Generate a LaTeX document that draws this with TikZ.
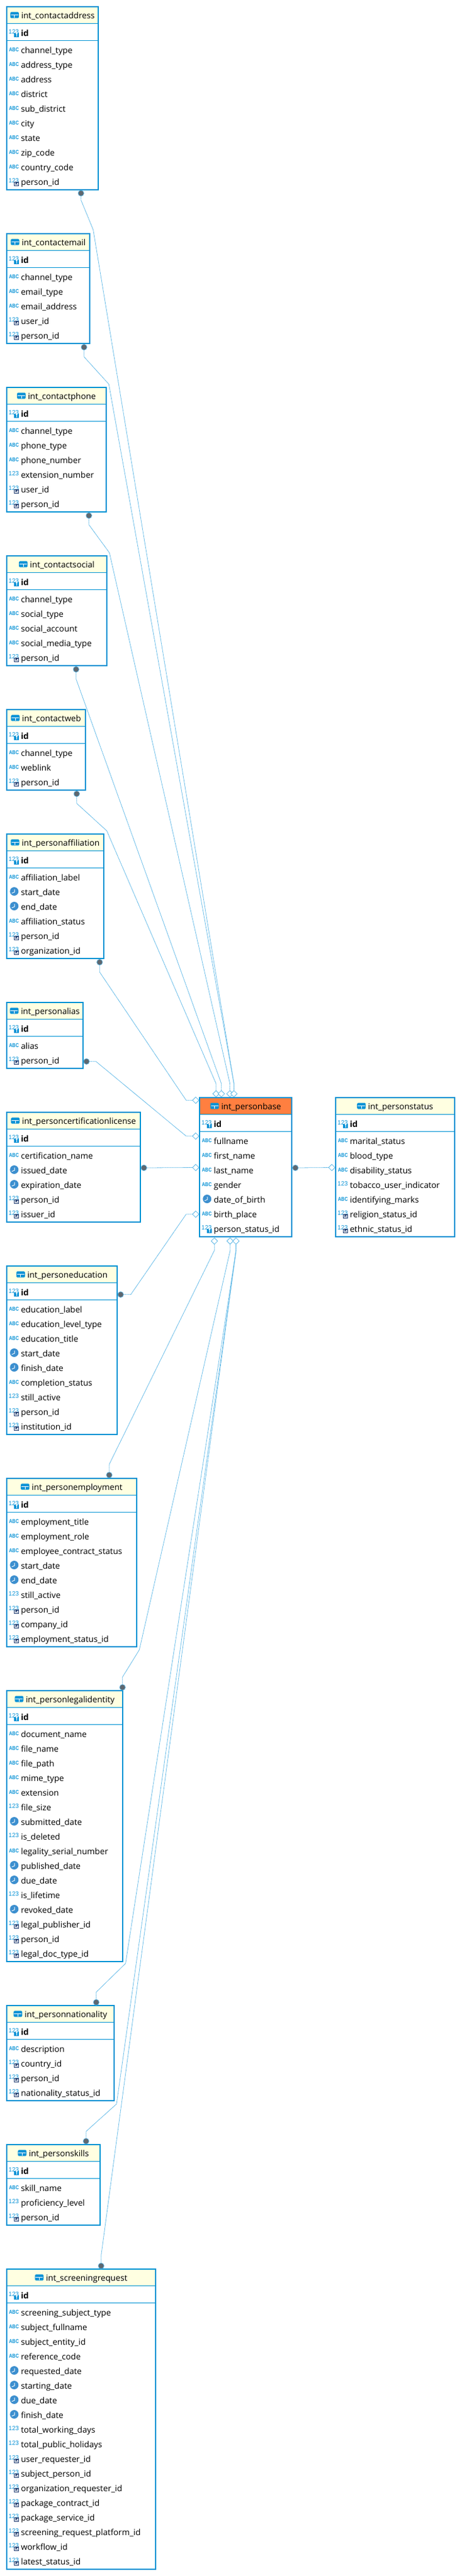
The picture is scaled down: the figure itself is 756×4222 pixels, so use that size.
\documentclass[tikz,border=0pt]{standalone}
\usepackage{fontspec}
\setmainfont{Open Sans}
\newfontfamily\iconfont{Liberation Sans}
\usetikzlibrary{positioning,shapes.geometric}
\definecolor{FrameBlue}{HTML}{0092D4}
\definecolor{IconBlue}{HTML}{0A93D6}
\definecolor{ClockBlue}{HTML}{3C8FCF}
\definecolor{RelBlue}{HTML}{5DB7E6}
\definecolor{DotGray}{HTML}{5F6870}
\definecolor{HeaderYellow}{HTML}{FFFFE1}
\definecolor{HeaderOrange}{HTML}{FF7F40}
\definecolor{FkNavy}{HTML}{1F3B6F}

\begin{document}
\begin{tikzpicture}
    [
        x=1pt,y=-1pt,font=\fontsize{13.7pt}{16pt}\selectfont,
        TableBox/.style={rectangle,draw=FrameBlue,line width=2pt,fill=white,inner sep=0pt,outer sep=0pt,anchor=north west,
            path picture={
                \fill[#1] (path picture bounding box.north west) rectangle ([yshift=-27.5pt]path picture bounding box.north east);
                \draw[FrameBlue,line width=1pt] ([yshift=-27.5pt]path picture bounding box.north west) -- ([yshift=-27.5pt]path picture bounding box.north east);
                \draw[FrameBlue,line width=1pt] ([yshift=-55.5pt]path picture bounding box.north west) -- ([yshift=-55.5pt]path picture bounding box.north east);
            }},
        TableBox/.default=HeaderYellow,
        Title/.style={inner sep=0pt,outer sep=0pt,text height=9pt,text depth=3pt,
            append after command={pic at (\tikzlastnode.west) {TableIcon}}},
        Column/.style={rectangle,inner sep=0pt,outer sep=0pt,minimum height=24pt,text height=9pt,text depth=3pt,anchor=west},
        KeyColumn/.style={Column,minimum height=32pt,font=\fontsize{13.7pt}{16pt}\selectfont\bfseries},
        Next/.style={below=0pt of #1.south west,anchor=north west},
        AbcText/.style={font=\iconfont\bfseries\fontsize{9pt}{9pt}\selectfont,text=IconBlue,inner sep=0pt,xshift=-3.2pt,yshift=3pt},
        NumText/.style={font=\iconfont\fontsize{10pt}{10pt}\selectfont,text=IconBlue,inner sep=0pt,xshift=-3.2pt,yshift=4pt},
        Abc/.style={label={[AbcText]left:\scalebox{.82}[1]{ABC}}},
        Num/.style={label={[NumText]left:123}},
        Pk/.style={Num,append after command={pic at (\tikzlastnode.west) {PkBadge}}},
        Fk/.style={Num,append after command={pic at (\tikzlastnode.west) {FkBadge}}},
        Clock/.style={append after command={pic at (\tikzlastnode.west) {ClockIcon}}},
        TableIcon/.pic={
            \fill[IconBlue,rounded corners=1.5pt] (-18,-8) rectangle (-4,2);
            \draw[white,line width=.8pt] (-17,-3) -- (-5,-3);
            \draw[white,line width=.8pt] (-11,-3) -- (-11,1);
        },
        PkBadge/.pic={
            \fill[IconBlue] (-11,-2.5) rectangle (-3,5);
            \draw[white,line width=.8pt] (-7,-1) circle (1pt);
            \draw[white,line width=.8pt] (-7,0) -- (-7,3.5);
        },
        FkBadge/.pic={
            \fill[white] (-11,-2.5) rectangle (-3,5);
            \draw[FkNavy,line width=.8pt] (-10.5,-2) rectangle (-3.5,4.5);
            \draw[FkNavy,line width=.7pt] (-8.5,3) -- (-8.5,-.5) -- (-5.5,-.5) -- (-8,1) -- (-5.5,3);
        },
        ClockIcon/.pic={
            \fill[ClockBlue] (-11,-3) circle (7pt);
            \draw[white,line width=.9pt] (-10.5,-6.5) -- (-10.5,-2) -- (-15,0);
        },
        Dot/.style={circle,fill=DotGray,draw=RelBlue,line width=.7pt,minimum size=9.5pt,inner sep=0pt,outer sep=0pt},
        Rhomb/.style={diamond,draw=RelBlue,fill=white,line width=.8pt,minimum width=10.5pt,minimum height=10.5pt,inner sep=0pt,outer sep=0pt,aspect=1},
        Rel/.style={draw=RelBlue,line width=.8pt,dash pattern=on 1.2pt off .4pt}
    ]
    \useasboundingbox (0,0) rectangle (756,4222);

    \node[TableBox=HeaderOrange,minimum width=151pt,minimum height=228pt] (personbase) at (327,1799) {};
    \node[Title] (personbase_title) at ([xshift=9pt,yshift=-16.7pt]personbase.north) {int\_personbase};
    \node[KeyColumn,Pk] (personbase_id) at ([xshift=23.3pt,yshift=-45pt]personbase.north west) {id};
    \node[Column,Abc,Next=personbase_id] (personbase_fullname) {fullname};
    \node[Column,Abc,Next=personbase_fullname] (personbase_first_name) {first\_name};
    \node[Column,Abc,Next=personbase_first_name] (personbase_last_name) {last\_name};
    \node[Column,Abc,Next=personbase_last_name] (personbase_gender) {gender};
    \node[Column,Clock,Next=personbase_gender] (personbase_date_of_birth) {date\_of\_birth};
    \node[Column,Abc,Next=personbase_date_of_birth] (personbase_birth_place) {birth\_place};
    \node[Column,Pk,Next=personbase_birth_place] (personbase_person_status_id) {person\_status\_id};

    \node[TableBox,minimum width=195pt,minimum height=228pt] (personstatus) at (550,1799) {};
    \node[Title] (personstatus_title) at ([xshift=9pt,yshift=-16.7pt]personstatus.north) {int\_personstatus};
    \node[KeyColumn,Pk] (personstatus_id) at ([xshift=23.3pt,yshift=-45pt]personstatus.north west) {id};
    \node[Column,Abc,Next=personstatus_id] (personstatus_marital_status) {marital\_status};
    \node[Column,Abc,Next=personstatus_marital_status] (personstatus_blood_type) {blood\_type};
    \node[Column,Abc,Next=personstatus_blood_type] (personstatus_disability_status) {disability\_status};
    \node[Column,Num,Next=personstatus_disability_status] (personstatus_tobacco) {tobacco\_user\_indicator};
    \node[Column,Abc,Next=personstatus_tobacco] (personstatus_marks) {identifying\_marks};
    \node[Column,Fk,Next=personstatus_marks] (personstatus_religion) {religion\_status\_id};
    \node[Column,Fk,Next=personstatus_religion] (personstatus_ethnic) {ethnic\_status\_id};

    \node[TableBox,minimum width=150pt,minimum height=300pt] (contactaddress) at (11,11) {};
    \node[Title] (contactaddress_title) at ([xshift=9pt,yshift=-16.7pt]contactaddress.north) {int\_contactaddress};
    \node[KeyColumn,Pk] (contactaddress_id) at ([xshift=23.3pt,yshift=-45pt]contactaddress.north west) {id};
    \node[Column,Abc,Next=contactaddress_id] (contactaddress_channel) {channel\_type};
    \node[Column,Abc,Next=contactaddress_channel] (contactaddress_type) {address\_type};
    \node[Column,Abc,Next=contactaddress_type] (contactaddress_address) {address};
    \node[Column,Abc,Next=contactaddress_address] (contactaddress_district) {district};
    \node[Column,Abc,Next=contactaddress_district] (contactaddress_sub) {sub\_district};
    \node[Column,Abc,Next=contactaddress_sub] (contactaddress_city) {city};
    \node[Column,Abc,Next=contactaddress_city] (contactaddress_state) {state};
    \node[Column,Abc,Next=contactaddress_state] (contactaddress_zip) {zip\_code};
    \node[Column,Abc,Next=contactaddress_zip] (contactaddress_country) {country\_code};
    \node[Column,Fk,Next=contactaddress_country] (contactaddress_person) {person\_id};

    \node[TableBox,minimum width=136pt,minimum height=180pt] (contactemail) at (11,383) {};
    \node[Title] (contactemail_title) at ([xshift=9pt,yshift=-16.7pt]contactemail.north) {int\_contactemail};
    \node[KeyColumn,Pk] (contactemail_id) at ([xshift=23.3pt,yshift=-45pt]contactemail.north west) {id};
    \node[Column,Abc,Next=contactemail_id] (contactemail_channel) {channel\_type};
    \node[Column,Abc,Next=contactemail_channel] (contactemail_type) {email\_type};
    \node[Column,Abc,Next=contactemail_type] (contactemail_address) {email\_address};
    \node[Column,Fk,Next=contactemail_address] (contactemail_user) {user\_id};
    \node[Column,Fk,Next=contactemail_user] (contactemail_person) {person\_id};

    \node[TableBox,minimum width=163pt,minimum height=204pt] (contactphone) at (11,635) {};
    \node[Title] (contactphone_title) at ([xshift=9pt,yshift=-16.7pt]contactphone.north) {int\_contactphone};
    \node[KeyColumn,Pk] (contactphone_id) at ([xshift=23.3pt,yshift=-45pt]contactphone.north west) {id};
    \node[Column,Abc,Next=contactphone_id] (contactphone_channel) {channel\_type};
    \node[Column,Abc,Next=contactphone_channel] (contactphone_type) {phone\_type};
    \node[Column,Abc,Next=contactphone_type] (contactphone_number) {phone\_number};
    \node[Column,Num,Next=contactphone_number] (contactphone_extension) {extension\_number};
    \node[Column,Fk,Next=contactphone_extension] (contactphone_user) {user\_id};
    \node[Column,Fk,Next=contactphone_user] (contactphone_person) {person\_id};

    \node[TableBox,minimum width=164pt,minimum height=180pt] (contactsocial) at (11,911) {};
    \node[Title] (contactsocial_title) at ([xshift=9pt,yshift=-16.7pt]contactsocial.north) {int\_contactsocial};
    \node[KeyColumn,Pk] (contactsocial_id) at ([xshift=23.3pt,yshift=-45pt]contactsocial.north west) {id};
    \node[Column,Abc,Next=contactsocial_id] (contactsocial_channel) {channel\_type};
    \node[Column,Abc,Next=contactsocial_channel] (contactsocial_type) {social\_type};
    \node[Column,Abc,Next=contactsocial_type] (contactsocial_account) {social\_account};
    \node[Column,Abc,Next=contactsocial_account] (contactsocial_media) {social\_media\_type};
    \node[Column,Fk,Next=contactsocial_media] (contactsocial_person) {person\_id};

    \node[TableBox,minimum width=129pt,minimum height=132pt] (contactweb) at (11,1163) {};
    \node[Title] (contactweb_title) at ([xshift=9pt,yshift=-16.7pt]contactweb.north) {int\_contactweb};
    \node[KeyColumn,Pk] (contactweb_id) at ([xshift=23.3pt,yshift=-45pt]contactweb.north west) {id};
    \node[Column,Abc,Next=contactweb_id] (contactweb_channel) {channel\_type};
    \node[Column,Abc,Next=contactweb_channel] (contactweb_link) {weblink};
    \node[Column,Fk,Next=contactweb_link] (contactweb_person) {person\_id};

    \node[TableBox,minimum width=159pt,minimum height=204pt] (personaffiliation) at (11,1367) {};
    \node[Title] (personaffiliation_title) at ([xshift=9pt,yshift=-16.7pt]personaffiliation.north) {int\_personaffiliation};
    \node[KeyColumn,Pk] (personaffiliation_id) at ([xshift=23.3pt,yshift=-45pt]personaffiliation.north west) {id};
    \node[Column,Abc,Next=personaffiliation_id] (personaffiliation_label) {affiliation\_label};
    \node[Column,Clock,Next=personaffiliation_label] (personaffiliation_start) {start\_date};
    \node[Column,Clock,Next=personaffiliation_start] (personaffiliation_end) {end\_date};
    \node[Column,Abc,Next=personaffiliation_end] (personaffiliation_status) {affiliation\_status};
    \node[Column,Fk,Next=personaffiliation_status] (personaffiliation_person) {person\_id};
    \node[Column,Fk,Next=personaffiliation_person] (personaffiliation_org) {organization\_id};

    \node[TableBox,minimum width=125pt,minimum height=108pt] (personalias) at (11,1643) {};
    \node[Title] (personalias_title) at ([xshift=9pt,yshift=-16.7pt]personalias.north) {int\_personalias};
    \node[KeyColumn,Pk] (personalias_id) at ([xshift=23.3pt,yshift=-45pt]personalias.north west) {id};
    \node[Column,Abc,Next=personalias_id] (personalias_alias) {alias};
    \node[Column,Fk,Next=personalias_alias] (personalias_person) {person\_id};

    \node[TableBox,minimum width=219pt,minimum height=180pt] (personcert) at (11,1823) {};
    \node[Title] (personcert_title) at ([xshift=9pt,yshift=-16.7pt]personcert.north) {int\_personcertificationlicense};
    \node[KeyColumn,Pk] (personcert_id) at ([xshift=23.3pt,yshift=-45pt]personcert.north west) {id};
    \node[Column,Abc,Next=personcert_id] (personcert_name) {certification\_name};
    \node[Column,Clock,Next=personcert_name] (personcert_issued) {issued\_date};
    \node[Column,Clock,Next=personcert_issued] (personcert_expiration) {expiration\_date};
    \node[Column,Fk,Next=personcert_expiration] (personcert_person) {person\_id};
    \node[Column,Fk,Next=personcert_person] (personcert_issuer) {issuer\_id};

    \node[TableBox,minimum width=181pt,minimum height=276pt] (personeducation) at (11,2075) {};
    \node[Title] (personeducation_title) at ([xshift=9pt,yshift=-16.7pt]personeducation.north) {int\_personeducation};
    \node[KeyColumn,Pk] (personeducation_id) at ([xshift=23.3pt,yshift=-45pt]personeducation.north west) {id};
    \node[Column,Abc,Next=personeducation_id] (personeducation_label) {education\_label};
    \node[Column,Abc,Next=personeducation_label] (personeducation_level) {education\_level\_type};
    \node[Column,Abc,Next=personeducation_level] (personeducation_titlename) {education\_title};
    \node[Column,Clock,Next=personeducation_titlename] (personeducation_start) {start\_date};
    \node[Column,Clock,Next=personeducation_start] (personeducation_finish) {finish\_date};
    \node[Column,Abc,Next=personeducation_finish] (personeducation_completion) {completion\_status};
    \node[Column,Num,Next=personeducation_completion] (personeducation_active) {still\_active};
    \node[Column,Fk,Next=personeducation_active] (personeducation_person) {person\_id};
    \node[Column,Fk,Next=personeducation_person] (personeducation_institution) {institution\_id};

    \node[TableBox,minimum width=213pt,minimum height=276pt] (personemployment) at (11,2423) {};
    \node[Title] (personemployment_title) at ([xshift=9pt,yshift=-16.7pt]personemployment.north) {int\_personemployment};
    \node[KeyColumn,Pk] (personemployment_id) at ([xshift=23.3pt,yshift=-45pt]personemployment.north west) {id};
    \node[Column,Abc,Next=personemployment_id] (personemployment_job) {employment\_title};
    \node[Column,Abc,Next=personemployment_job] (personemployment_role) {employment\_role};
    \node[Column,Abc,Next=personemployment_role] (personemployment_contract) {employee\_contract\_status};
    \node[Column,Clock,Next=personemployment_contract] (personemployment_start) {start\_date};
    \node[Column,Clock,Next=personemployment_start] (personemployment_end) {end\_date};
    \node[Column,Num,Next=personemployment_end] (personemployment_active) {still\_active};
    \node[Column,Fk,Next=personemployment_active] (personemployment_person) {person\_id};
    \node[Column,Fk,Next=personemployment_person] (personemployment_company) {company\_id};
    \node[Column,Fk,Next=personemployment_company] (personemployment_status) {employment\_status\_id};

    \node[TableBox,minimum width=190pt,minimum height=444pt] (personlegal) at (11,2771) {};
    \node[Title] (personlegal_title) at ([xshift=9pt,yshift=-16.7pt]personlegal.north) {int\_personlegalidentity};
    \node[KeyColumn,Pk] (personlegal_id) at ([xshift=23.3pt,yshift=-45pt]personlegal.north west) {id};
    \node[Column,Abc,Next=personlegal_id] (personlegal_document) {document\_name};
    \node[Column,Abc,Next=personlegal_document] (personlegal_file) {file\_name};
    \node[Column,Abc,Next=personlegal_file] (personlegal_path) {file\_path};
    \node[Column,Abc,Next=personlegal_path] (personlegal_mime) {mime\_type};
    \node[Column,Abc,Next=personlegal_mime] (personlegal_extension) {extension};
    \node[Column,Num,Next=personlegal_extension] (personlegal_size) {file\_size};
    \node[Column,Clock,Next=personlegal_size] (personlegal_submitted) {submitted\_date};
    \node[Column,Num,Next=personlegal_submitted] (personlegal_deleted) {is\_deleted};
    \node[Column,Abc,Next=personlegal_deleted] (personlegal_serial) {legality\_serial\_number};
    \node[Column,Clock,Next=personlegal_serial] (personlegal_published) {published\_date};
    \node[Column,Clock,Next=personlegal_published] (personlegal_due) {due\_date};
    \node[Column,Num,Next=personlegal_due] (personlegal_lifetime) {is\_lifetime};
    \node[Column,Clock,Next=personlegal_lifetime] (personlegal_revoked) {revoked\_date};
    \node[Column,Fk,Next=personlegal_revoked] (personlegal_publisher) {legal\_publisher\_id};
    \node[Column,Fk,Next=personlegal_publisher] (personlegal_person) {person\_id};
    \node[Column,Fk,Next=personlegal_person] (personlegal_doctype) {legal\_doc\_type\_id};

    \node[TableBox,minimum width=176pt,minimum height=156pt] (personnationality) at (11,3287) {};
    \node[Title] (personnationality_title) at ([xshift=9pt,yshift=-16.7pt]personnationality.north) {int\_personnationality};
    \node[KeyColumn,Pk] (personnationality_id) at ([xshift=23.3pt,yshift=-45pt]personnationality.north west) {id};
    \node[Column,Abc,Next=personnationality_id] (personnationality_description) {description};
    \node[Column,Fk,Next=personnationality_description] (personnationality_country) {country\_id};
    \node[Column,Fk,Next=personnationality_country] (personnationality_person) {person\_id};
    \node[Column,Fk,Next=personnationality_person] (personnationality_status) {nationality\_status\_id};

    \node[TableBox,minimum width=153pt,minimum height=132pt] (personskills) at (11,3515) {};
    \node[Title] (personskills_title) at ([xshift=9pt,yshift=-16.7pt]personskills.north) {int\_personskills};
    \node[KeyColumn,Pk] (personskills_id) at ([xshift=23.3pt,yshift=-45pt]personskills.north west) {id};
    \node[Column,Abc,Next=personskills_id] (personskills_name) {skill\_name};
    \node[Column,Num,Next=personskills_name] (personskills_level) {proficiency\_level};
    \node[Column,Fk,Next=personskills_level] (personskills_person) {person\_id};

    \node[TableBox,minimum width=244pt,minimum height=492pt] (screening) at (11,3719) {};
    \node[Title] (screening_title) at ([xshift=9pt,yshift=-16.7pt]screening.north) {int\_screeningrequest};
    \node[KeyColumn,Pk] (screening_id) at ([xshift=23.3pt,yshift=-45pt]screening.north west) {id};
    \node[Column,Abc,Next=screening_id] (screening_type) {screening\_subject\_type};
    \node[Column,Abc,Next=screening_type] (screening_fullname) {subject\_fullname};
    \node[Column,Abc,Next=screening_fullname] (screening_entity) {subject\_entity\_id};
    \node[Column,Abc,Next=screening_entity] (screening_reference) {reference\_code};
    \node[Column,Clock,Next=screening_reference] (screening_requested) {requested\_date};
    \node[Column,Clock,Next=screening_requested] (screening_starting) {starting\_date};
    \node[Column,Clock,Next=screening_starting] (screening_due) {due\_date};
    \node[Column,Clock,Next=screening_due] (screening_finish) {finish\_date};
    \node[Column,Num,Next=screening_finish] (screening_working) {total\_working\_days};
    \node[Column,Num,Next=screening_working] (screening_holidays) {total\_public\_holidays};
    \node[Column,Fk,Next=screening_holidays] (screening_user) {user\_requester\_id};
    \node[Column,Fk,Next=screening_user] (screening_person) {subject\_person\_id};
    \node[Column,Fk,Next=screening_person] (screening_org) {organization\_requester\_id};
    \node[Column,Fk,Next=screening_org] (screening_contract) {package\_contract\_id};
    \node[Column,Fk,Next=screening_contract] (screening_service) {package\_service\_id};
    \node[Column,Fk,Next=screening_service] (screening_platform) {screening\_request\_platform\_id};
    \node[Column,Fk,Next=screening_platform] (screening_workflow) {workflow\_id};
    \node[Column,Fk,Next=screening_workflow] (screening_status) {latest\_status\_id};

    \node[Dot] (contactaddress_dot) at (132.7,316.7) {};
    \node[Dot] (contactemail_dot) at (137.7,569) {};
    \node[Dot] (contactphone_dot) at (145.7,845) {};
    \node[Dot] (contactsocial_dot) at (124.7,1097) {};
    \node[Dot] (contactweb_dot) at (125.7,1301) {};
    \node[Dot] (personaffiliation_dot) at (163.3,1577) {};
    \node[Dot] (personalias_dot) at (141.7,1739.7) {};
    \node[Dot] (personcert_dot) at (235.8,1914) {};
    \node[Dot] (personbase_dot) at (484,1914) {};
    \node[Dot] (personeducation_dot) at (197.7,2121.7) {};
    \node[Dot] (personemployment_dot) at (179,2417.5) {};
    \node[Dot] (personlegal_dot) at (200.7,2765.5) {};
    \node[Dot] (personnationality_dot) at (157.7,3281.7) {};
    \node[Dot] (personskills_dot) at (141,3509.3) {};
    \node[Dot] (screening_dot) at (165.7,3713.7) {};

    \node[Rhomb] (base_top1) at (354,1792.7) {};
    \node[Rhomb] (base_top2) at (362.7,1792.7) {};
    \node[Rhomb] (base_top3) at (376.7,1792.7) {};
    \node[Rhomb] (base_top4) at (383.3,1792.7) {};
    \node[Rhomb] (base_left1) at (320.7,1803.3) {};
    \node[Rhomb] (base_left2) at (320.7,1862) {};
    \node[Rhomb] (base_left3) at (320.7,1913.5) {};
    \node[Rhomb] (base_left4) at (320.7,1990) {};
    \node[Rhomb] (base_bottom1) at (351.3,2034) {};
    \node[Rhomb] (base_bottom2) at (377,2034) {};
    \node[Rhomb] (base_bottom3) at (386.7,2034) {};
    \node[Rhomb] (status_left) at (543.7,1913.5) {};

    \draw[Rel] (contactaddress_dot) -- (132.7,328) -- (152.7,376.5) -- (383.3,1776) -- (base_top4);
    \draw[Rel] (contactemail_dot) -- (137.7,584.8) -- (178.3,629.6) -- (383.3,1776) -- (base_top4);
    \draw[Rel] (contactphone_dot) -- (145.7,860) -- (179.3,906) -- (376.7,1776) -- (base_top3);
    \draw[Rel] (contactsocial_dot) -- (124.7,1113) -- (362.7,1776) -- (base_top2);
    \draw[Rel] (contactweb_dot) -- (125.7,1316.7) -- (175,1361.7) -- (354,1776) -- (base_top1);
    \draw[Rel] (personaffiliation_dot) -- (163.3,1593.3) -- (305,1803.3) -- (base_left1);
    \draw[Rel] (personalias_dot) -- (157.3,1739.7) -- (305,1862) -- (base_left2);
    \draw[Rel] (personcert_dot) -- (base_left3);
    \draw[Rel] (personbase_dot) -- (status_left);
    \draw[Rel] (personeducation_dot) -- (214.3,2121.7) -- (305,1990) -- (base_left4);
    \draw[Rel] (personemployment_dot) -- (179,2400) -- (351.3,2049.3) -- (base_bottom1);
    \draw[Rel] (personlegal_dot) -- (200.7,2748.6) -- (228.3,2704) -- (377,2050) -- (base_bottom2);
    \draw[Rel] (personnationality_dot) -- (157.7,3265) -- (205.7,3218) -- (386.7,2050) -- (base_bottom3);
    \draw[Rel] (personskills_dot) -- (141,3493.3) -- (191,3448.3) -- (386.7,2050) -- (base_bottom3);
    \draw[Rel] (screening_dot) -- (165.7,3696.7) -- (386.7,2050) -- (base_bottom3);
\end{tikzpicture}
\end{document}
